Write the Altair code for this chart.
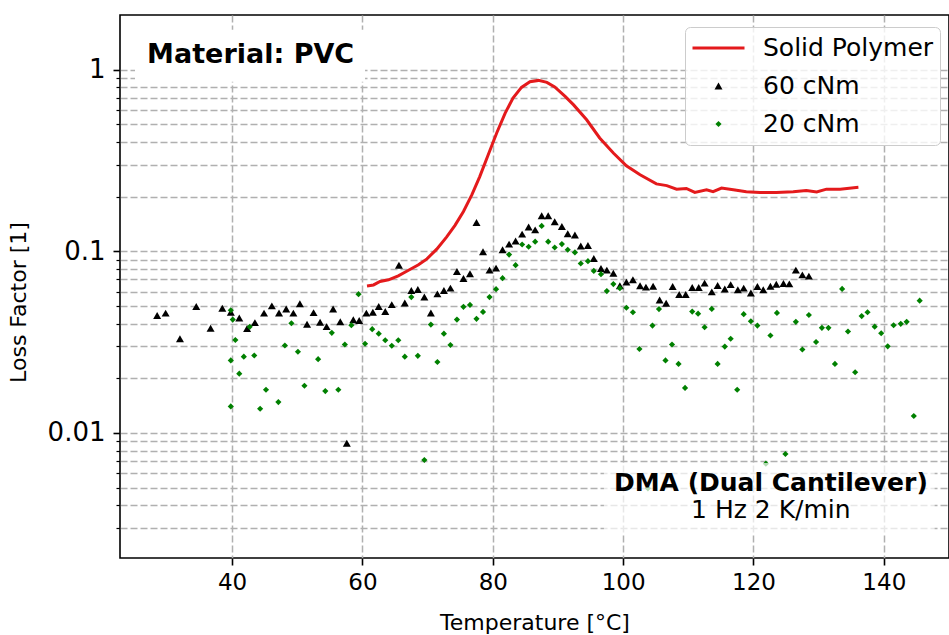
import altair as alt
import pandas as pd

# ---------------- data ----------------
T_60 = [28.5, 29.8, 32.0, 34.5, 36.7, 38.5, 39.8, 41.1, 42.3, 43.5, 44.9, 46.1, 47.2, 48.3, 49.4,
        50.4, 51.5, 52.5, 53.5, 54.5, 55.5, 56.6, 57.6, 58.6, 59.5, 60.6, 61.6, 62.5, 63.5, 64.5,
        65.6, 66.5, 67.5, 68.5, 69.5, 70.5, 71.5, 72.5, 73.5, 74.5, 75.5, 76.5, 77.5, 78.5, 79.5,
        80.5, 81.5, 82.5, 83.5, 84.5, 85.5, 86.5, 87.5, 88.5, 89.5, 90.6, 91.5, 92.6, 93.5, 94.6,
        95.5, 96.6, 97.5, 98.5, 99.5, 100.5, 101.5, 102.6, 103.5, 104.6, 105.6, 106.6, 107.6, 108.6,
        109.6, 110.6, 111.6, 112.5, 113.6, 114.5, 115.6, 116.5, 117.6, 118.5, 119.6, 120.6, 121.5,
        122.6, 123.5, 124.6, 125.5, 126.5, 127.5, 128.5]
LF_60 = [0.0443, 0.0457, 0.033, 0.0497, 0.0377, 0.0486, 0.0462, 0.043, 0.0376, 0.0405, 0.0457,
         0.0501, 0.0458, 0.0481, 0.0457, 0.0514, 0.0397, 0.046, 0.0407, 0.0385, 0.0481, 0.041,
         0.00877, 0.042, 0.0416, 0.0457, 0.0462, 0.0497, 0.0466, 0.0509, 0.0839, 0.052, 0.0608,
         0.0616, 0.056, 0.0458, 0.0583, 0.0608, 0.0627, 0.0774, 0.0708, 0.0752, 0.144, 0.0994,
         0.0788, 0.0808, 0.102, 0.1096, 0.114, 0.1244, 0.136, 0.1313, 0.157, 0.157, 0.1455, 0.137,
         0.125, 0.123, 0.107, 0.1076, 0.0913, 0.0804, 0.0788, 0.0758, 0.0646, 0.0677, 0.0697,
         0.0646, 0.0635, 0.0643, 0.054, 0.0518, 0.064, 0.0578, 0.0578, 0.0632, 0.0632, 0.0668,
         0.0598, 0.0648, 0.0621, 0.0656, 0.0614, 0.0627, 0.059, 0.064, 0.0614, 0.0643, 0.0659,
         0.0665, 0.0662, 0.0788, 0.0742, 0.073]

T_20 = [39.8, 39.8, 39.8, 40.1, 40.5, 41.1, 41.8, 42.7, 43.4, 44.3, 45.2, 47.1, 48.1, 49.1, 50.1,
        51.1, 53.2, 54.3, 55.3, 56.3, 57.3, 58.3, 59.4, 60.4, 61.5, 62.5, 63.5, 64.5, 65.5, 66.5,
        67.5, 68.5, 69.5, 70.5, 71.5, 72.5, 73.5, 74.5, 75.5, 76.5, 77.5, 78.5, 79.5, 80.5, 81.5,
        82.5, 83.5, 84.5, 85.5, 86.5, 87.5, 88.5, 89.5, 90.6, 91.5, 92.6, 93.5, 94.6, 95.5, 96.6,
        97.5, 98.5, 99.5, 100.5, 101.5, 102.5, 103.8, 104.5, 105.5, 106.5, 107.5, 108.5, 109.5,
        110.6, 111.5, 112.5, 113.6, 114.5, 115.6, 116.5, 117.5, 118.5, 119.6, 120.6, 121.9, 122.6,
        123.6, 124.9, 126.5, 127.5, 128.5, 129.6, 130.5, 131.5, 132.5, 133.6, 134.5, 135.6, 136.6,
        137.5, 138.6, 139.6, 140.6, 141.5, 142.6, 143.5, 144.6, 145.5]
LF_20 = [0.0474, 0.0251, 0.014, 0.0421, 0.0325, 0.0212, 0.0263, 0.0384, 0.0267, 0.0136, 0.0173,
         0.0148, 0.0303, 0.0402, 0.028, 0.0182, 0.0255, 0.017, 0.0356, 0.0173, 0.0307, 0.0392,
         0.0581, 0.031, 0.0373, 0.0352, 0.0324, 0.0302, 0.0324, 0.0263, 0.056, 0.0266, 0.0071,
         0.0395, 0.0246, 0.0352, 0.0305, 0.0421, 0.0495, 0.0507, 0.0425, 0.0464, 0.056, 0.0619,
         0.0712, 0.096, 0.0839, 0.109, 0.106, 0.113, 0.138, 0.113, 0.105, 0.1096, 0.102, 0.0986,
         0.0857, 0.0883, 0.078, 0.0749, 0.0604, 0.066, 0.0627, 0.0489, 0.0462, 0.029, 0.00496,
         0.039, 0.0481, 0.0251, 0.0307, 0.024, 0.0177, 0.0466, 0.0454, 0.0382, 0.0482, 0.024,
         0.0299, 0.033, 0.0173, 0.0451, 0.0412, 0.039, 0.00678, 0.0344, 0.0458, 0.00766, 0.0409,
         0.0288, 0.0446, 0.0317, 0.0379, 0.0379, 0.024, 0.0621, 0.0362, 0.0216, 0.044, 0.0462,
         0.0385, 0.0354, 0.03, 0.0392, 0.0399, 0.0409, 0.0124, 0.0535]

T_SOLID = [60.7, 61.7, 62.7, 64.0, 65.5, 67.0, 68.6, 69.9, 71.4, 72.9, 74.2, 75.5, 76.8, 78.0,
           79.3, 80.6, 81.9, 83.1, 84.4, 85.7, 87.0, 88.3, 89.5, 91.1, 92.4, 94.4, 96.4, 98.5,
           100.5, 102.6, 105.1, 106.7, 108.2, 109.7, 111.0, 112.8, 113.8, 115.1, 116.9, 118.9,
           121.0, 123.5, 126.1, 128.1, 129.7, 131.2, 133.3, 136.1]
LF_SOLID = [0.0645, 0.0653, 0.0682, 0.0697, 0.0733, 0.0784, 0.0843, 0.0909, 0.1028, 0.1198,
            0.139, 0.1657, 0.205, 0.258, 0.340, 0.448, 0.577, 0.698, 0.799, 0.859, 0.873, 0.851,
            0.803, 0.713, 0.64, 0.530, 0.421, 0.348, 0.296, 0.264, 0.235, 0.230, 0.220, 0.222,
            0.211, 0.218, 0.213, 0.223, 0.218, 0.213, 0.211, 0.211, 0.213, 0.216, 0.212, 0.220,
            0.220, 0.225]

SERIES = ["Solid Polymer", "60 cNm", "20 cNm"]
X_TICKS = [40, 60, 80, 100, 120, 140]
Y_TICKS = [0.003, 0.004, 0.005, 0.006, 0.007, 0.008, 0.009,
           0.01, 0.02, 0.03, 0.04, 0.05, 0.06, 0.07, 0.08, 0.09,
           0.1, 0.2, 0.3, 0.4, 0.5, 0.6, 0.7, 0.8, 0.9, 1]

# ---------------- styles ----------------
FONT = "DejaVu Sans"
GRID = "#b0b0b0"
COLORS = ["#e41a1c", "#000000", "#008000"]
SHAPES = ["stroke", "triangle-up", "diamond"]
SIZES = [2704, 64, 38]
WIDTHS = [3, 0, 0]

line_df = pd.DataFrame({"T": T_SOLID, "LF": LF_SOLID, "series": SERIES[0]})
pts_df = pd.concat([
    pd.DataFrame({"T": T_60, "LF": LF_60, "series": SERIES[1]}),
    pd.DataFrame({"T": T_20, "LF": LF_20, "series": SERIES[2]}),
], ignore_index=True)

x_scale = alt.Scale(domain=[22.8, 150], nice=False, zero=False)
y_scale = alt.Scale(type="log", domain=[0.00205, 2.0], nice=False)

x_axis = alt.Axis(title="Temperature [°C]", values=X_TICKS, format="d", grid=True,
                  gridDash=[7, 3], gridColor=GRID, gridWidth=1.5, domain=False,
                  tickColor="black", tickWidth=1.6, tickSize=7, labelFont=FONT,
                  labelFontSize=23, labelPadding=6, labelColor="black", labelFlush=False,
                  titleFont=FONT, titleFontSize=22, titleFontWeight="normal",
                  titleColor="black", titlePadding=18)

major = "datum.value == 1 || datum.value == 0.1 || datum.value == 0.01"
y_axis = alt.Axis(title="Loss Factor [1]", values=Y_TICKS,
                  labelExpr="datum.value == 1 ? '1' : datum.value == 0.1 ? '0.1' : datum.value == 0.01 ? '0.01' : ''",
                  labelOverlap=False, grid=True, gridDash=[7, 3], gridColor=GRID,
                  gridWidth=1.5, domain=False, tickColor="black",
                  tickWidth={"condition": {"test": major, "value": 1.6}, "value": 1.2},
                  tickSize={"condition": {"test": major, "value": 7}, "value": 4},
                  labelFont=FONT, labelFontSize=26, labelPadding=8, labelColor="black",
                  titleFont=FONT, titleFontSize=22, titleFontWeight="normal",
                  titleColor="black", titlePadding=17, titleY=287)

legend = alt.Legend(title=None, orient="none", legendX=565, legendY=12, padding=6,
                    labelFont=FONT, labelFontSize=25, labelColor="black", labelOffset=17,
                    labelLimit=400, rowPadding=8, clipHeight=30,
                    fillColor="rgba(255,255,255,0.8)", strokeColor="#cccccc",
                    cornerRadius=5)

enc_x = alt.X("T:Q", scale=x_scale, axis=x_axis)
enc_y = alt.Y("LF:Q", scale=y_scale, axis=y_axis)
stroke_enc = alt.Stroke("series:N", scale=alt.Scale(domain=SERIES, range=COLORS), legend=legend)
fill_enc = alt.Fill("series:N", scale=alt.Scale(domain=SERIES, range=COLORS), legend=legend)
shape_enc = alt.Shape("series:N", scale=alt.Scale(domain=SERIES, range=SHAPES), legend=legend)
size_enc = alt.Size("series:N", scale=alt.Scale(type="ordinal", domain=SERIES, range=SIZES), legend=legend)
sw_enc = alt.StrokeWidth("series:N", scale=alt.Scale(type="ordinal", domain=SERIES, range=WIDTHS), legend=legend)

line = alt.Chart(line_df).mark_line(clip=True).encode(
    x=enc_x, y=enc_y, stroke=stroke_enc, strokeWidth=sw_enc)

points = alt.Chart(pts_df).mark_point(filled=True, clip=True, opacity=1).encode(
    x=enc_x, y=enc_y, fill=fill_enc, stroke=stroke_enc, shape=shape_enc,
    size=size_enc, strokeWidth=sw_enc)

# annotation boxes and texts (placed in data coordinates)
mat_box_df = pd.DataFrame({"x0": [25.1], "x1": [60.4], "y0": [0.859], "y1": [1.66]})
dma_box_df = pd.DataFrame({"x0": [97.05], "x1": [147.8], "y0": [0.00274], "y1": [0.00684]})

def box(df, opacity):
    return alt.Chart(df).mark_rect(fill="white", opacity=opacity, clip=True).encode(
        x=alt.X("x0:Q", scale=x_scale, axis=x_axis), x2="x1:Q",
        y=alt.Y("y0:Q", scale=y_scale, axis=y_axis), y2="y1:Q")

mat_box = box(mat_box_df, 1.0)
dma_box = box(dma_box_df, 0.7)

def label(text, xv, yv, align, size, weight):
    df = pd.DataFrame({"T": [xv], "LF": [yv], "txt": [text]})
    return alt.Chart(df).mark_text(align=align, baseline="alphabetic", font=FONT,
                                   fontSize=size, fontWeight=weight, color="black").encode(
        x=enc_x, y=enc_y, text="txt:N")

mat_text = label("Material: PVC", 26.96, 1.093, "left", 27, "bold")
dma_text1 = label("DMA (Dual Cantilever)", 122.67, 0.00479, "center", 25, "bold")
dma_text2 = label("1 Hz 2 K/min", 122.67, 0.0034, "center", 25, "normal")

chart = alt.layer(mat_box, line, points, dma_box, mat_text, dma_text1, dma_text2).properties(
    width=829, height=543,
    autosize=alt.AutoSizeParams(type="none"),
    padding={"left": 120, "top": 15, "right": 0, "bottom": 77},
    background="white",
).configure(font=FONT).configure_view(stroke="black", strokeWidth=1.6)

chart.save("out.html", embed_options={"renderer": "svg", "actions": False})
